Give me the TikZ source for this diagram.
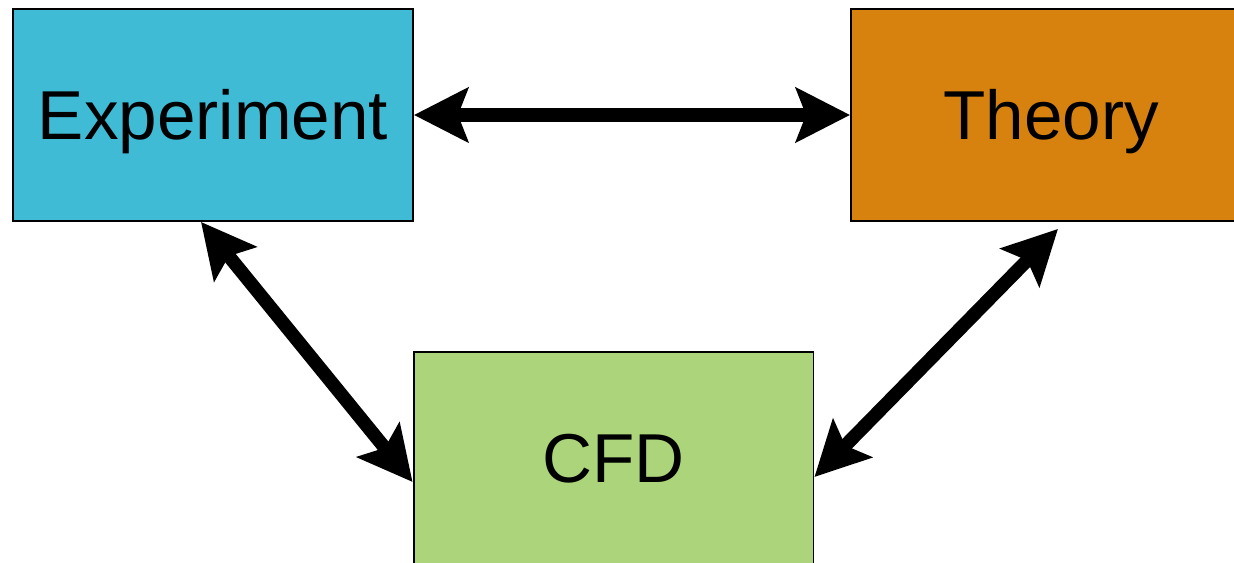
\documentclass[tikz,border=0pt]{standalone}
\usepackage{fontspec}
\setmainfont{Liberation Sans}
\usetikzlibrary{arrows.meta,positioning}

\definecolor{expblue}{HTML}{3FBBD6}
\definecolor{theoorange}{HTML}{D7820F}
\definecolor{cfdgreen}{HTML}{ACD47A}

\begin{document}
\begin{tikzpicture}[x=0.02cm,y=-0.02cm,
	>={Stealth[length=1.08cm,width=1.08cm,inset=0.2cm]},
	box/.style={shape=rectangle,draw=black,line width=1.1pt,inner sep=0pt,
		minimum width=8cm,minimum height=4.24cm,
		font=\fontsize{39.4}{47}\selectfont,text height=1cm,text depth=0pt},
	link/.style={<->,line width=0.27cm}]
	\clip (0,0) rectangle (1234,563);

	\node (experiment) [box,fill=expblue] at (213,115) {Experiment};
	\node (theory) [box,fill=theoorange] at (1051,115) {Theory};
	\node (cfd) [box,fill=cfdgreen] at (613.5,458) {CFD};

	\path[link] (experiment) edge (theory);
	\path[link] ([xshift=-0.24cm]experiment.south) edge ([yshift=-0.48cm]cfd.west);
	\path[link] ([xshift=0.14cm,yshift=-0.14cm]theory.south) edge ([yshift=-0.38cm]cfd.east);
\end{tikzpicture}
\end{document}
